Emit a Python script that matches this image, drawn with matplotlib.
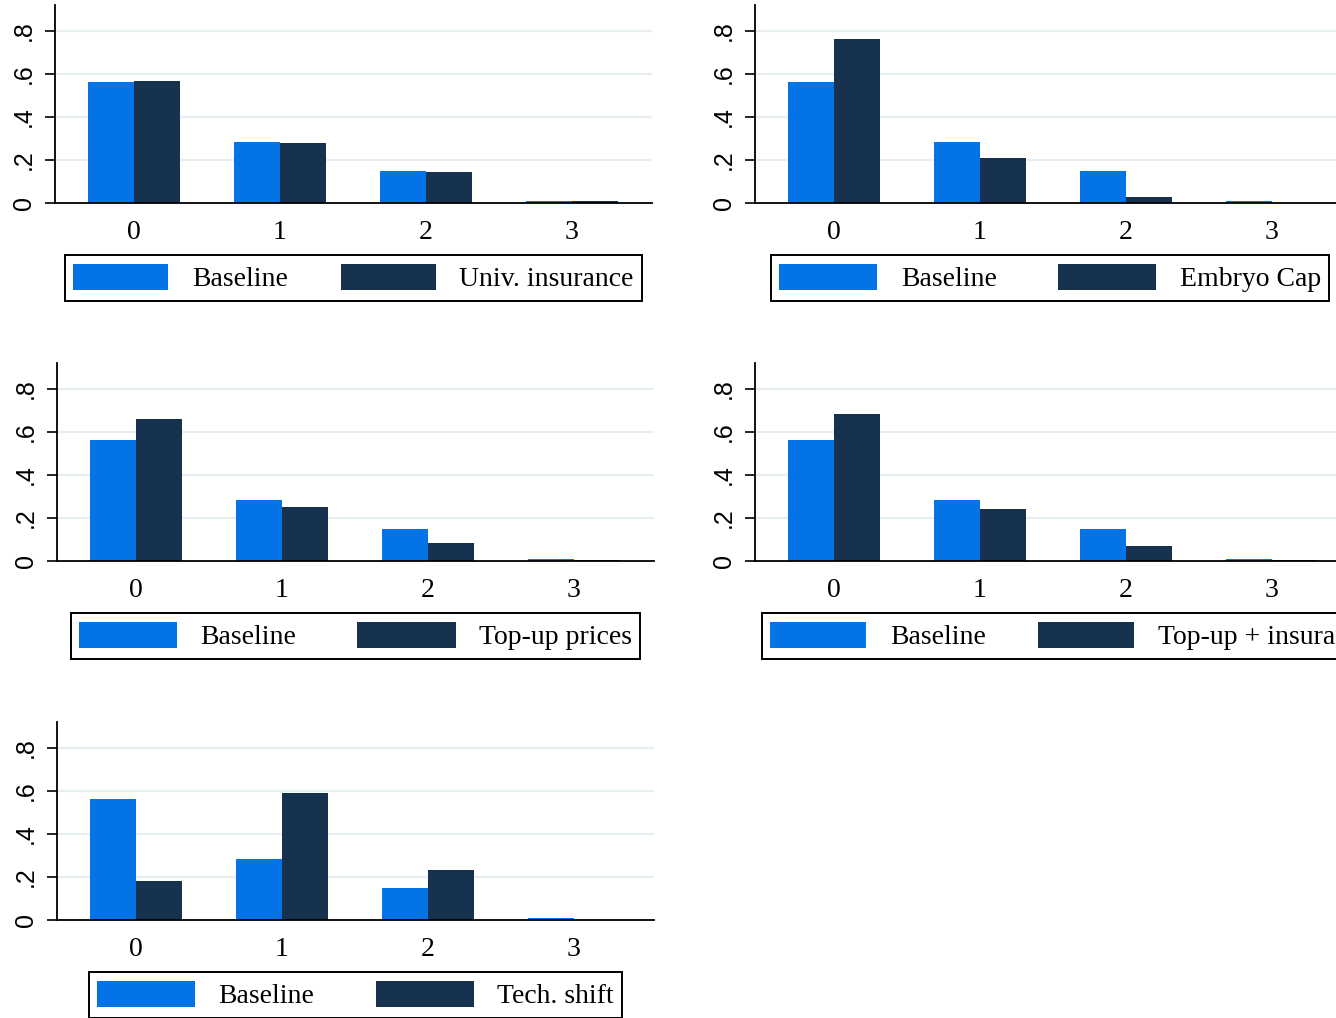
import numpy as np
import matplotlib
matplotlib.use("Agg")
import matplotlib.pyplot as plt

# number of children (categories) and shares
categories = [0, 1, 2, 3]
baseline = [0.563, 0.284, 0.149, 0.011]
univ_insurance = [0.567, 0.280, 0.144, 0.011]
embryo_cap = [0.763, 0.209, 0.028, 0.0005]
topup_prices = [0.659, 0.249, 0.084, 0.005]
topup_insur = [0.682, 0.243, 0.071, 0.003]
tech_shift = [0.181, 0.591, 0.232, 0.0]

panels = [
    ("Univ. insurance", univ_insurance),
    ("Embryo Cap", embryo_cap),
    ("Top-up prices", topup_prices),
    ("Top-up + insurance", topup_insur),
    ("Tech. shift", tech_shift),
]

BLUE = "#0373E6"
NAVY = "#17324F"
GRID = "#E6EEF1"

W, H = 1336, 1018
fig = plt.figure(figsize=(W / 100, H / 100), dpi=100)

# axes placement in pixels (left edge per panel, bottom edge per row)
ax_left = [55, 755, 57, 755, 57]
ax_w = 597
row_bottom = [203, 561, 920]
ax_h = 198
# right-hand legends start at a fixed left edge (they run off the page)
leg_left = [None, 771, None, 762, None]
leg_colspace = [1.9, 2.2, 2.2, 1.9, 2.2]
leg_handlelen = [3.42, 3.53, 3.53, 3.45, 3.53]


def draw_panel(ax, name, other, lleft, colsp, hlen):
    x = np.arange(len(categories))
    bw = 0.315
    ax.bar(x - bw / 2, baseline, width=bw, color=BLUE, label="Baseline", zorder=3)
    ax.bar(x + bw / 2, other, width=bw, color=NAVY, label=name, zorder=3)
    ax.set_xlim(-0.541, 3.548)
    ax.set_ylim(0, 0.92)
    ax.set_yticks([0, 0.2, 0.4, 0.6, 0.8])
    ax.set_yticklabels(["0", ".2", ".4", ".6", ".8"], family="Liberation Sans",
                       fontsize=18, rotation=90, va="center")
    ax.set_xticks(x)
    ax.set_xticklabels([str(c) for c in categories], family="Liberation Serif", fontsize=20)
    ax.tick_params(axis="x", length=0, pad=12)
    ax.tick_params(axis="y", length=7, width=1.2, pad=7)
    for yv in [0.2, 0.4, 0.6, 0.8]:
        ax.axhline(yv, color=GRID, lw=1.6, zorder=1)
    for s in ["top", "right"]:
        ax.spines[s].set_visible(False)
    for s in ["left", "bottom"]:
        ax.spines[s].set_linewidth(1.3)
        ax.spines[s].set_zorder(4)
    if lleft is None:
        loc, anchor = "center", (0.5, -75 / ax_h)
    else:
        loc, anchor = "center left", (lleft / ax_w, -75 / ax_h)
    leg = ax.legend(loc=loc, bbox_to_anchor=anchor, ncol=2, borderaxespad=0,
                    prop={"family": "Liberation Serif", "size": 20},
                    handlelength=hlen, handleheight=1.05, handletextpad=0.85,
                    columnspacing=colsp, borderpad=0.3, fancybox=False,
                    frameon=True, edgecolor="black", framealpha=1)
    leg.get_frame().set_linewidth(1.4)


for i, (name, vals) in enumerate(panels):
    r, c = divmod(i, 2)
    ax = fig.add_axes([ax_left[i] / W, 1 - row_bottom[r] / H, ax_w / W, ax_h / H])
    lleft = None if leg_left[i] is None else leg_left[i] - ax_left[i]
    draw_panel(ax, name, vals, lleft, leg_colspace[i], leg_handlelen[i])

fig.savefig("out.png", dpi=100)
